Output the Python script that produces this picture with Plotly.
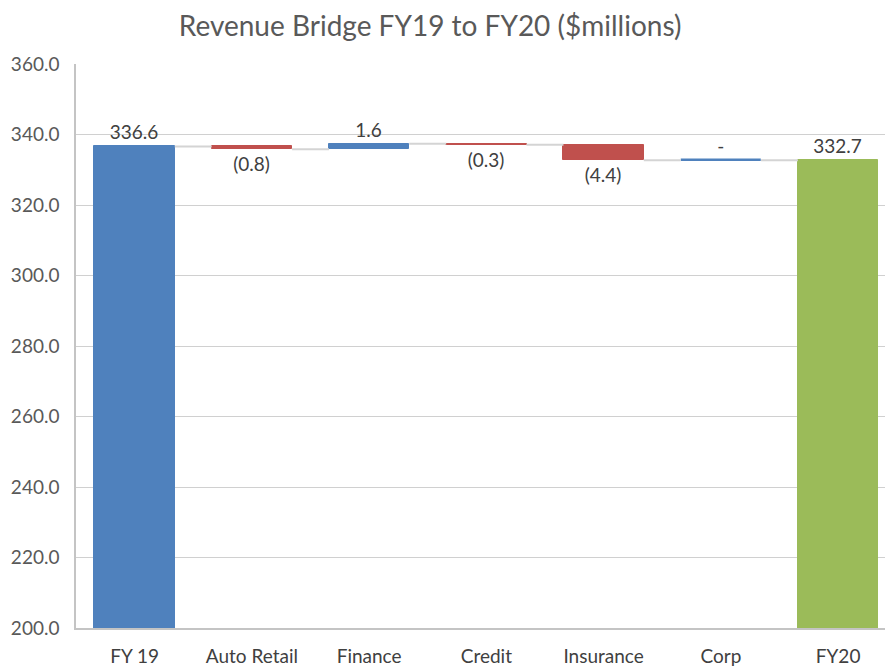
import plotly.graph_objects as go

categories = ["FY 19", "Auto Retail", "Finance", "Credit", "Insurance", "Corp", "FY20"]
values = [336.6, -0.8, 1.6, -0.3, -4.4, 0.0, 332.7]
kinds = ["total", "delta", "delta", "delta", "delta", "delta", "total"]
labels = ["336.6", "(0.8)", "1.6", "(0.3)", "(4.4)", "-", "332.7"]
y_ticks = [200, 220, 240, 260, 280, 300, 320, 340, 360]

BLUE = "#4F81BD"
RED = "#C0504D"
GREEN = "#9BBB59"
TEXT = "#595959"
BAR_W = 0.685

bases, heights, colors, levels, line_w = [], [], [], [], []
running = 0.0
for i, (v, k) in enumerate(zip(values, kinds)):
    if k == "total":
        bases.append(0)
        heights.append(v)
        running = v
        colors.append(GREEN if i == len(values) - 1 else BLUE)
    else:
        bases.append(running)
        heights.append(v)
        running += v
        colors.append(RED if v < 0 else BLUE)
    levels.append(running)
    line_w.append(2.5 if v == 0 else 1)

xs = list(range(len(categories)))

fig = go.Figure()

# connectors
cx, cy = [], []
for i in range(len(xs) - 1):
    cx += [xs[i] + BAR_W / 2, xs[i + 1] - BAR_W / 2, None]
    cy += [levels[i], levels[i], None]
fig.add_trace(go.Scatter(x=cx, y=cy, mode="lines",
                         line=dict(color="#d4d4d4", width=2),
                         hoverinfo="skip", showlegend=False))

fig.add_trace(go.Bar(
    x=xs, y=heights, base=bases, width=BAR_W,
    marker=dict(color=colors, line=dict(color=colors, width=line_w)),
    text=labels, textposition="outside",
    textfont=dict(family="Lato", size=19, color="#404040"),
    cliponaxis=False, showlegend=False,
))

fig.update_layout(
    width=885, height=667,
    paper_bgcolor="white", plot_bgcolor="white",
    margin=dict(l=76, r=0, t=64, b=39),
    title=dict(text="Revenue Bridge FY19 to FY20 ($millions)",
               x=0.486, xanchor="center", y=0.961, yanchor="middle",
               font=dict(family="Lato", size=28, color=TEXT)),
    font=dict(family="Lato", color=TEXT),
    xaxis=dict(range=[-0.5, 6.40], tickvals=xs, ticktext=categories,
               tickfont=dict(size=19, color="#404040"),
               showgrid=False, showline=True, linecolor="#c4c4c4",
               linewidth=1.5, ticks="", zeroline=False,
               ticklabelstandoff=10),
    yaxis=dict(range=[200, 360], tickvals=y_ticks,
               ticktext=[f"{t:.1f}" for t in y_ticks],
               tickfont=dict(size=19, color=TEXT),
               showgrid=True, gridcolor="#d0d0d0", gridwidth=1.2,
               showline=True, linecolor="#c4c4c4", linewidth=1.5,
               ticks="", zeroline=False, ticklabelstandoff=11),
    bargap=0,
)

fig.write_html("out.html", config={"displayModeBar": False},
               post_script="document.body.style.margin='0';document.body.style.overflow='hidden';")
